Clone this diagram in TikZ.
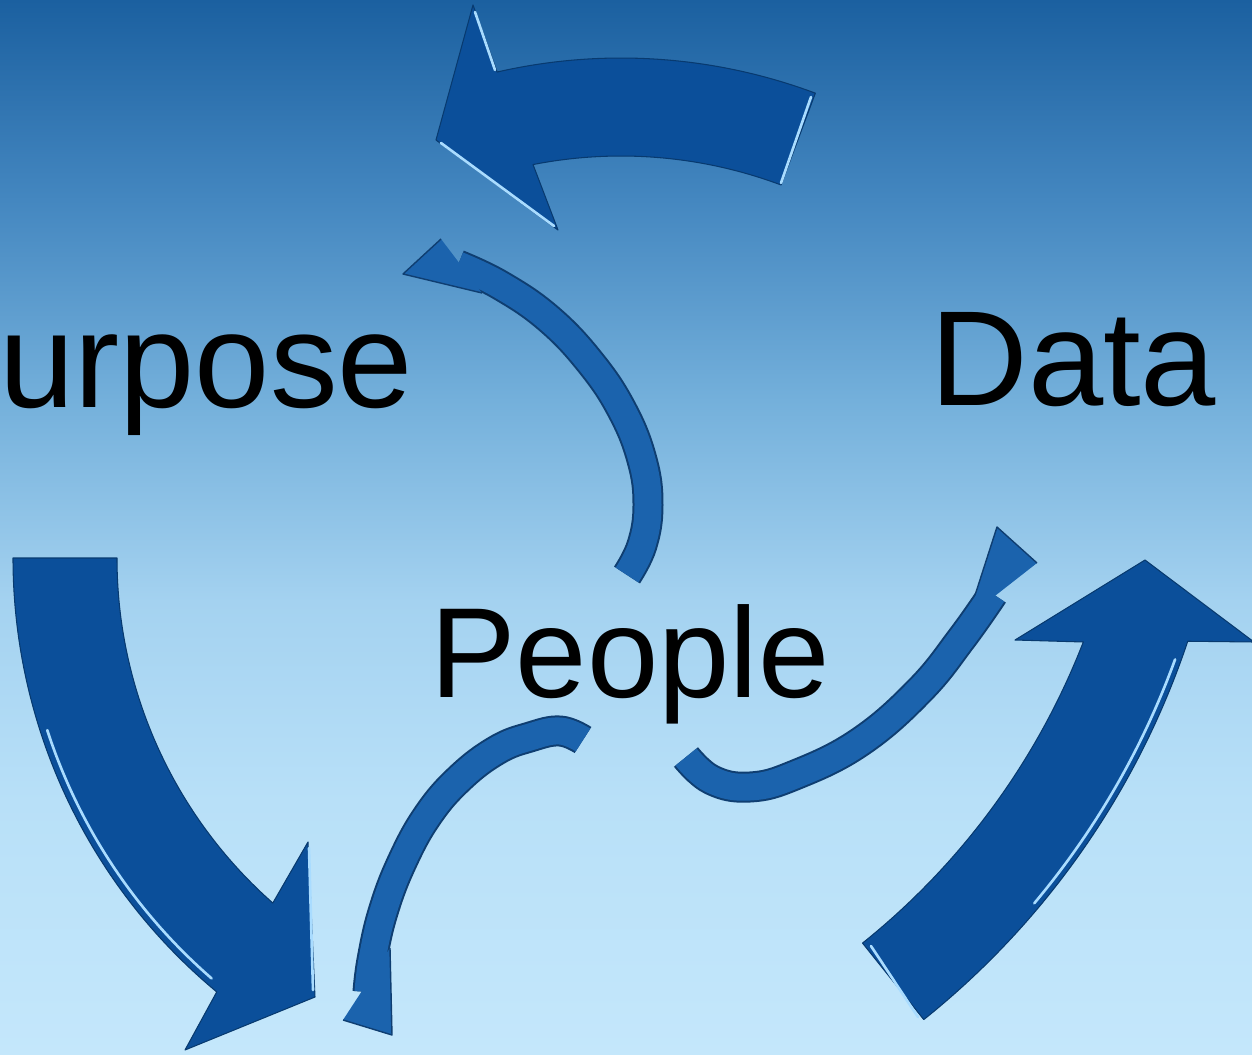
\documentclass[tikz,border=0pt]{standalone}
\usepackage{fontspec}
\setmainfont{Liberation Sans}

\definecolor{skyA}{HTML}{1B60A0}
\definecolor{skyB}{HTML}{4487C0}
\definecolor{skyC}{HTML}{74B0DB}
\definecolor{skyD}{HTML}{A4D2F0}
\definecolor{skyE}{HTML}{B8E0F8}
\definecolor{skyF}{HTML}{C4E7FB}
\definecolor{arrowfill}{HTML}{0B4F9A}
\definecolor{arrowedge}{HTML}{083A6F}
\definecolor{arrowshine}{HTML}{A9DCFF}
\definecolor{smallfill}{HTML}{1B63AD}
\definecolor{smalledge}{HTML}{0F3E71}

\pgfdeclareverticalshading{sky}{100bp}{color(0bp)=(skyF); color(25bp)=(skyF);
  color(37bp)=(skyE); color(46.5bp)=(skyD); color(56bp)=(skyC);
  color(65.5bp)=(skyB); color(75bp)=(skyA); color(100bp)=(skyA)}

\begin{document}
\begin{tikzpicture}[x=0.02cm, y=-0.02cm,
    bigarrow/.style = {fill=arrowfill, draw=arrowedge, line width=0.6pt, line join=round},
    shine/.style = {draw=arrowshine, line width=1.5pt, line cap=round},
    rim/.style = {draw=smalledge, line width=0.62cm},
    core/.style = {draw=smallfill, line width=0.54cm},
    smallhead/.style = {fill=smallfill, draw=smalledge, line width=0.8pt, line join=round},
    word/.style = {text=black, inner sep=0pt, anchor=base west, font=\fontsize{77}{92}\selectfont}
  ]
  \useasboundingbox (0,0) rectangle (1252,1055);
  \shade[shading=sky] (0,0) rectangle (1252,1055);

  \coordinate (topc) at (621,613);
  \coordinate (leftc) at (577,558);
  \coordinate (rightc) at (413,382);

  % big arrows
  \filldraw[bigarrow] ([shift={(-69.5:555)}]topc) arc[start angle=-69.5, end angle=-102.9, radius=555]
    -- (473,5) -- (436,140) -- (558,230)
    -- ([shift={(-101.1:457)}]topc) arc[start angle=-101.1, end angle=-69.5, radius=457] -- cycle;
  \filldraw[bigarrow] ([shift={(180:564)}]leftc) arc[start angle=180, end angle=129.7, radius=564]
    -- (185,1050) -- (315,997) -- (308,842)
    -- ([shift={(131.4:460)}]leftc) arc[start angle=131.4, end angle=180, radius=460] -- cycle;
  \filldraw[bigarrow] ([shift={(51.3:817)}]rightc) arc[start angle=51.3, end angle=18.5, radius=817]
    -- (1254,642) -- (1145,560) -- (1015,640)
    -- ([shift={(21.2:719)}]rightc) arc[start angle=21.2, end angle=51.3, radius=719] -- cycle;

  % highlights
  \draw[shine] (441,143) -- (554,226);
  \draw[shine] (475,12) -- (495,70);
  \draw[shine] (811,97) -- (781,183);
  \draw[shine] ([shift={(162:557)}]leftc) arc[start angle=162, end angle=131, radius=557];
  \draw[shine] (309,848) -- (313,990);
  \draw[shine] ([shift={(40:811)}]rightc) arc[start angle=40, end angle=20, radius=811];
  \draw[shine] (871,946) -- (918,1017);

  % small arrows
  \def\upperpath{(627,575) (642,545) (648,505) (642,460) (622,410) (590,362) (548,318) (500,285) (458,265)}
  \def\rightpath{(686,757) (712,780) (750,787) (795,775) (860,742) (920,690) (962,638) (993,594)}
  \def\lowerpath{(583,740) (560,731) (530,737) (497,750) (460,778) (428,815) (402,862) (383,912) (372,960) (368,992)}

  \draw[rim] plot[smooth, tension=.7] coordinates \upperpath;
  \filldraw[smallhead] (441,239) -- (403,274) -- (482,293);
  \draw[core] plot[smooth, tension=.7] coordinates \upperpath;

  \draw[rim] plot[smooth, tension=.7] coordinates \rightpath;
  \filldraw[smallhead] (968,617) -- (997,527) -- (1037,563);
  \draw[core] plot[smooth, tension=.7] coordinates \rightpath;

  \draw[rim] plot[smooth, tension=.7] coordinates \lowerpath;
  \filldraw[smallhead] (390,948) -- (392,1035) -- (343,1020);
  \draw[core] plot[smooth, tension=.7] coordinates \lowerpath;

  % labels
  \node[word] (purpose) at (-1,407) {urpose};
  \node[word] (data) at (930,405) {Data};
  \node[word, font=\fontsize{73}{88}\selectfont] (people) at (430,697) {People};
\end{tikzpicture}
\end{document}
